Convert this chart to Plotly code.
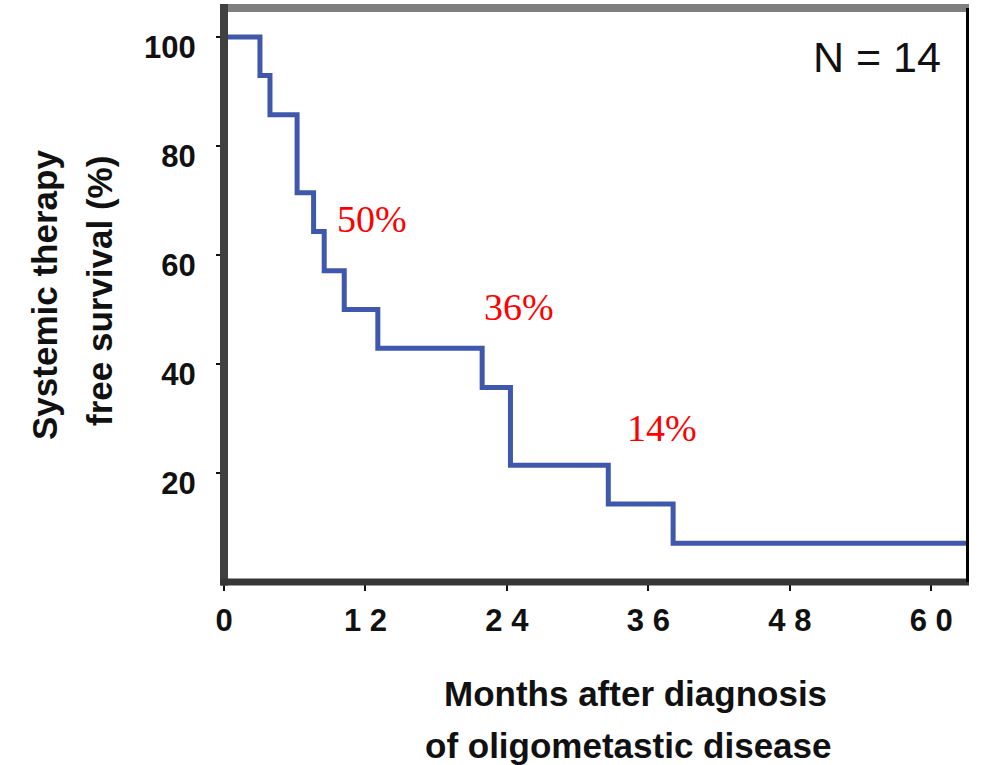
import plotly.graph_objects as go

# Kaplan-Meier step data (months, survival %)
months = [0, 3.05, 3.9, 6.2, 7.6, 8.5, 10.2, 13.05, 21.9, 24.3, 32.6, 38.1, 63.2]
survival = [100, 92.9, 85.7, 71.4, 64.3, 57.1, 50, 42.9, 35.7, 21.4, 14.3, 7.1, 7.1]

x_tickvals = [0, 12, 24, 36, 48, 60]
x_ticktext = ["0", "1 2", "2 4", "3 6", "4 8", "6 0"]
y_tickvals = [20, 40, 60, 80, 100]
y_ticktext = ["20", "40", "60", "80", "100"]

pct_labels = ["50%", "36%", "14%"]
pct_x = [12.55, 25.0, 37.15]
pct_y = [66.6, 50.5, 28.3]

fig = go.Figure()
fig.add_trace(go.Scatter(
    x=months, y=survival, mode="lines",
    line=dict(shape="hv", color="#3F58AC", width=5),
    showlegend=False, hoverinfo="skip",
))

for t, xx, yy in zip(pct_labels, pct_x, pct_y):
    fig.add_annotation(x=xx, y=yy, text=t, showarrow=False,
                       font=dict(family="Liberation Serif, Times New Roman, serif", size=38, color="#FF0000"),
                       xanchor="center", yanchor="middle")

fig.add_annotation(x=55.4, y=96.3, text="N = 14", showarrow=False,
                   font=dict(family="Liberation Sans, Arial, sans-serif", size=43, color="#111111"),
                   xanchor="center", yanchor="middle")

title_font = dict(family="Liberation Sans, Arial, sans-serif", size=35, color="#111111")
# y-axis title (two lines)
fig.add_annotation(xref="paper", yref="paper", x=-0.2416, y=0.5, text="<b>Systemic therapy</b>",
                   textangle=-90, showarrow=False, font=title_font, xanchor="center", yanchor="middle")
fig.add_annotation(xref="paper", yref="paper", x=-0.1664, y=0.507, text="<b>free survival (%)</b>",
                   textangle=-90, showarrow=False, font=title_font, xanchor="center", yanchor="middle")
# x-axis title (two lines)
fig.add_annotation(xref="paper", yref="paper", x=0.553, y=-0.1934, text="<b>Months after diagnosis</b>",
                   showarrow=False, font=title_font, xanchor="center", yanchor="middle")
fig.add_annotation(xref="paper", yref="paper", x=0.5436, y=-0.2857, text="<b>of oligometastic disease</b>",
                   showarrow=False, font=title_font, xanchor="center", yanchor="middle")

# frame lines
fig.add_shape(type="line", xref="paper", yref="paper", x0=-0.005, x1=1.0, y0=1, y1=1,
              line=dict(color="#7F7F7F", width=8), layer="above")
fig.add_shape(type="line", xref="paper", yref="paper", x0=0, x1=0, y0=-0.006, y1=1.007,
              line=dict(color="#404040", width=8), layer="above")
fig.add_shape(type="line", xref="paper", yref="paper", x0=-0.005, x1=1.0, y0=0, y1=0,
              line=dict(color="#363636", width=7), layer="above")
fig.add_shape(type="line", xref="paper", yref="paper", x0=0.998, x1=0.998, y0=0, y1=1,
              line=dict(color="#000000", width=3), layer="above")

tick_font = dict(family="Liberation Sans, Arial, sans-serif", size=31, color="#111111")
fig.update_xaxes(range=[0, 63.2], tickvals=x_tickvals, ticktext=[f"<b>{t}</b>" for t in x_ticktext],
                 ticks="outside", ticklen=8, tickwidth=2, tickcolor="#111111",
                 showgrid=False, zeroline=False, showline=False,
                 tickfont=tick_font, ticklabelstandoff=3)
fig.update_yaxes(range=[0, 105.3], tickvals=y_tickvals, ticktext=[f"<b>{t}</b>" for t in y_ticktext],
                 ticks="outside", ticklen=7, tickwidth=2, tickcolor="#111111",
                 showgrid=False, zeroline=False, showline=False,
                 tickfont=tick_font, ticklabelstandoff=14, ticklabelshift=10)

fig.update_layout(
    width=984, height=765,
    margin=dict(l=224, r=15, t=8, b=183),
    paper_bgcolor="white", plot_bgcolor="white",
)

fig.write_html("out.html", config={"displayModeBar": False},
               post_script="document.body.style.margin='0';")
